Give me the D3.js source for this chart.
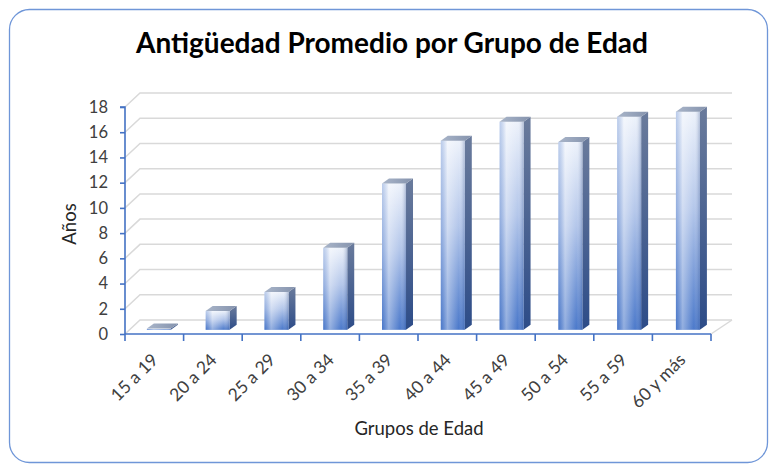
<!DOCTYPE html>
<html>
<head>
<meta charset="utf-8">
<script src="https://cdn.jsdelivr.net/npm/d3@7"></script>
<style>
  html, body { margin: 0; padding: 0; background: #fff; }
  svg { display: block; }
</style>
</head>
<body>
<svg id="chart" width="770" height="465"></svg>
<script>
const categories = ["15 a 19", "20 a 24", "25 a 29", "30 a 34", "35 a 39", "40 a 44", "45 a 49", "50 a 54", "55 a 59", "60 y más"];
const values = [0.1, 1.5, 3.0, 6.5, 11.6, 15.0, 16.5, 14.9, 16.9, 17.3];
const yTicks = [0, 2, 4, 6, 8, 10, 12, 14, 16, 18];
const titleText = "Antigüedad Promedio por Grupo de Edad";
const xTitle = "Grupos de Edad";
const yTitle = "Años";

const svg = d3.select("#chart");
const font = "Lato, 'Open Sans', sans-serif";
const blue = "#4472c4";

// layout
const x0 = 125, x1 = 711, yBase = 334, yTop = 107;
const depthY = -14;
const backDx = x => 15 + 6 * (x - x0) / (x1 - x0);

const x = d3.scaleBand().domain(categories).range([x0, x1]).paddingInner(0).paddingOuter(0);
const y = d3.scaleLinear().domain([0, 18]).range([yBase, yTop]);

// defs
const defs = svg.append("defs");
const gV = defs.append("linearGradient").attr("id", "gV").attr("x1", 0).attr("y1", 0).attr("x2", 0).attr("y2", 1);
[[0, "#edf2fb"], [0.45, "#b3c6ea"], [1, "#4a78ca"]].forEach(s => gV.append("stop").attr("offset", s[0]).attr("stop-color", s[1]));
const gH = defs.append("linearGradient").attr("id", "gH").attr("x1", 0).attr("y1", 0).attr("x2", 1).attr("y2", 0);
[[0, "#4472c4", 0.3], [0.28, "#ffffff", 0.4], [0.75, "#ffffff", 0], [1, "#1f3f80", 0.3]].forEach(s =>
  gH.append("stop").attr("offset", s[0]).attr("stop-color", s[1]).attr("stop-opacity", s[2]));
const gS = defs.append("linearGradient").attr("id", "gS").attr("x1", 0).attr("y1", 0).attr("x2", 0).attr("y2", 1);
[[0, "#6a7b9c"], [1, "#2d4c88"]].forEach(s => gS.append("stop").attr("offset", s[0]).attr("stop-color", s[1]));
const gT = defs.append("linearGradient").attr("id", "gT").attr("x1", 0).attr("y1", 0).attr("x2", 1).attr("y2", 0);
[[0, "#a9b5c9"], [1, "#8593ad"]].forEach(s => gT.append("stop").attr("offset", s[0]).attr("stop-color", s[1]));

// border
svg.append("rect").attr("x", 9.5).attr("y", 9.5).attr("width", 758).attr("height", 453)
  .attr("rx", 20).attr("ry", 20).attr("fill", "#fff").attr("stroke", "#6f96d8").attr("stroke-width", 1.3);

// title
svg.append("text").attr("x", 392).attr("y", 53).attr("text-anchor", "middle")
  .attr("font-family", font).attr("font-weight", "bold").attr("font-size", 28).attr("fill", "#000")
  .text(titleText);

// gridlines: side wall + back wall
const grid = svg.append("g").attr("stroke", "#d9d9d9").attr("stroke-width", 1.5).attr("fill", "none");
yTicks.forEach(t => {
  const yy = y(t);
  grid.append("polyline").attr("points",
    `${x0},${yy} ${x0 + backDx(x0)},${yy + depthY} ${x1 + backDx(x1)},${yy + depthY}`);
});
grid.append("line").attr("x1", x1).attr("y1", yBase).attr("x2", x1 + backDx(x1)).attr("y2", yBase + depthY);

// bars
const faceW = 24, bdx = 7, bdy = -5, frac = 0.3;
const bars = svg.append("g");
categories.forEach((c, i) => {
  const cx = x(c) + x.bandwidth() / 2;
  const sh = frac * backDx(cx);
  const left = cx - faceW / 2 + sh;
  const right = left + faceW;
  const base = yBase + frac * depthY;
  const top = y(values[i]) + frac * depthY;
  const h = base - top;
  const g = bars.append("g");
  g.append("path").attr("d", `M${right},${top} L${right + bdx},${top + bdy} L${right + bdx},${base + bdy} L${right},${base} Z`)
    .attr("fill", "url(#gS)");
  if (h > 0.6) {
    g.append("rect").attr("x", left).attr("y", top).attr("width", faceW).attr("height", h).attr("fill", "url(#gV)");
    g.append("rect").attr("x", left).attr("y", top).attr("width", faceW).attr("height", h).attr("fill", "url(#gH)");
  }
  g.append("path").attr("d", `M${left},${top} L${left + bdx},${top + bdy} L${right + bdx},${top + bdy} L${right},${top} Z`)
    .attr("fill", "url(#gT)");
});

// y axis
const yAxis = svg.append("g").attr("transform", `translate(${x0},0)`)
  .call(d3.axisLeft(y).tickValues(yTicks).tickSize(5).tickPadding(12).tickFormat(d3.format("d")));
yAxis.select(".domain").attr("stroke", blue).attr("stroke-width", 1.6).attr("d", `M-5,${yTop}H0V${yBase}`);
yAxis.selectAll(".tick line").attr("stroke", blue).attr("stroke-width", 1.6);
yAxis.selectAll(".tick text").attr("font-family", font).attr("font-size", 16.5).attr("fill", "#404040");

// x axis
const xAxis = svg.append("g").attr("transform", `translate(0,${yBase})`)
  .call(d3.axisBottom(x).tickSize(0).tickPadding(0));
xAxis.select(".domain").attr("stroke", blue).attr("stroke-width", 1.6).attr("d", `M${x0},0H${x1}`);
xAxis.selectAll(".tick line").remove();
const bounds = categories.map(c => x(c)).concat([x1]);
bounds.forEach(b => xAxis.append("line").attr("x1", b).attr("x2", b).attr("y1", 0).attr("y2", 7)
  .attr("stroke", blue).attr("stroke-width", 1.6));
xAxis.selectAll(".tick text")
  .attr("font-family", font).attr("font-size", 17.5).attr("fill", "#404040")
  .attr("text-anchor", "end").attr("dy", 0).attr("y", 0)
  .attr("transform", "translate(5,27) rotate(-45)");

// axis titles
svg.append("text").attr("transform", "translate(76,224) rotate(-90)").attr("text-anchor", "middle")
  .attr("font-family", font).attr("font-size", 18.5).attr("fill", "#262626").text(yTitle);
svg.append("text").attr("x", 419).attr("y", 435).attr("text-anchor", "middle")
  .attr("font-family", font).attr("font-size", 18.5).attr("fill", "#262626").text(xTitle);
</script>
</body>
</html>
